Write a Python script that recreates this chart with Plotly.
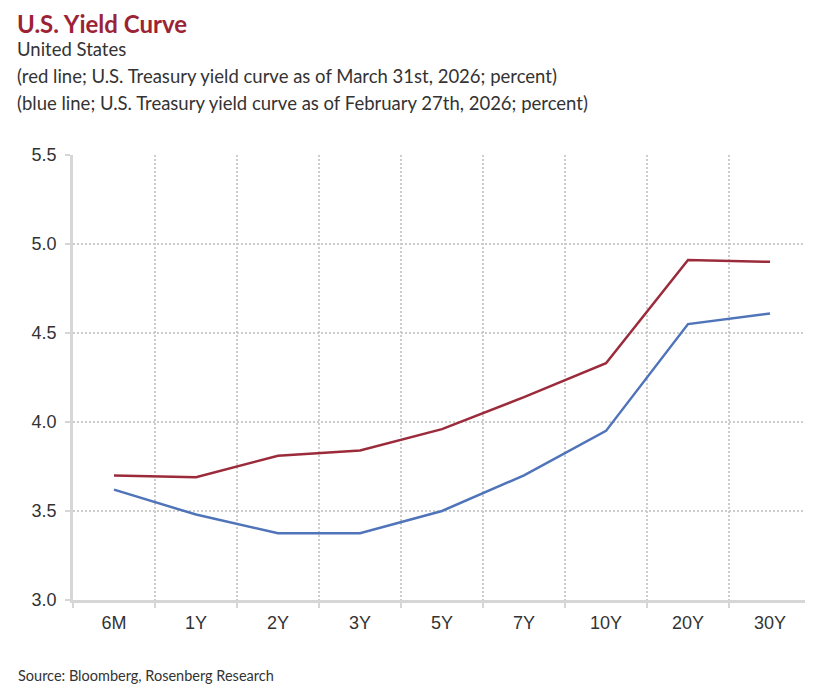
import plotly.graph_objects as go

tenors = ["6M", "1Y", "2Y", "3Y", "5Y", "7Y", "10Y", "20Y", "30Y"]
mar_2026 = [3.70, 3.69, 3.81, 3.84, 3.96, 4.14, 4.33, 4.91, 4.90]
feb_2026 = [3.62, 3.48, 3.375, 3.375, 3.50, 3.70, 3.95, 4.55, 4.61]
y_ticks = [3.0, 3.5, 4.0, 4.5, 5.0, 5.5]

OFF = 8  # page body margin
W, H = 813 - OFF, 687 - OFF
ML, MR, MT, MB = 73 - OFF, 2, 155 - OFF, 87
PW = W - ML - MR
PH = H - MT - MB

def px(x):
    return (x - OFF - ML) / PW

def py(y):
    return (H - MB - (y - OFF)) / PH

fig = go.Figure()
fig.add_trace(go.Scatter(x=tenors, y=feb_2026, mode="lines",
                         line=dict(color="#4F74B9", width=2.5), showlegend=False))
fig.add_trace(go.Scatter(x=tenors, y=mar_2026, mode="lines",
                         line=dict(color="#9B2B3B", width=2.5), showlegend=False))

grid = "#cccccc"
axfont = dict(family="Liberation Sans, Arial", size=18, color="#333333")
fig.update_xaxes(type="category", tickson="boundaries", showgrid=True,
                 gridcolor=grid, griddash="2px,2px", gridwidth=1.6,
                 showline=True, linecolor="#d6d6d6", linewidth=2.5,
                 ticks="outside", ticklen=5, tickcolor="#d6d6d6", tickwidth=2,
                 tickfont=axfont, ticklabelstandoff=5,
                 range=[-0.5, 8.5], zeroline=False)
fig.update_yaxes(range=[3.0, 5.5], tickvals=y_ticks,
                 ticktext=[f"{v:.1f}" for v in y_ticks],
                 showgrid=True, gridcolor=grid, griddash="2px,2px", gridwidth=1.6,
                 showline=True, linecolor="#d6d6d6", linewidth=2.5,
                 ticks="outside", ticklen=5, tickcolor="#d6d6d6", tickwidth=2,
                 tickfont=axfont, ticklabelstandoff=5, zeroline=False)

ann = []
ann.append(dict(text="<b>U.S. Yield Curve</b>", x=px(16), y=py(23), xref="paper", yref="paper",
                xanchor="left", yanchor="middle", showarrow=False, borderpad=0,
                font=dict(family="Lato", size=24, color="#9B2335")))
subs = ["United States",
        "(red line; U.S. Treasury yield curve as of March 31st, 2026; percent)",
        "(blue line; U.S. Treasury yield curve as of February 27th, 2026; percent)"]
for i, s in enumerate(subs):
    ann.append(dict(text=s, x=px(16), y=py(49 + 27 * i), xref="paper", yref="paper",
                    xanchor="left", yanchor="middle", showarrow=False, borderpad=0,
                    font=dict(family="Lato", size=18.5, color="#333333")))
ann.append(dict(text="Source: Bloomberg, Rosenberg Research", x=px(16), y=py(675),
                xref="paper", yref="paper", xanchor="left", yanchor="middle",
                showarrow=False, font=dict(family="Lato", size=14.5, color="#333333")))

fig.update_layout(width=W, height=H, margin=dict(l=ML, r=MR, t=MT, b=MB),
                  plot_bgcolor="white", paper_bgcolor="white", annotations=ann)

fig.write_html("out.html")
